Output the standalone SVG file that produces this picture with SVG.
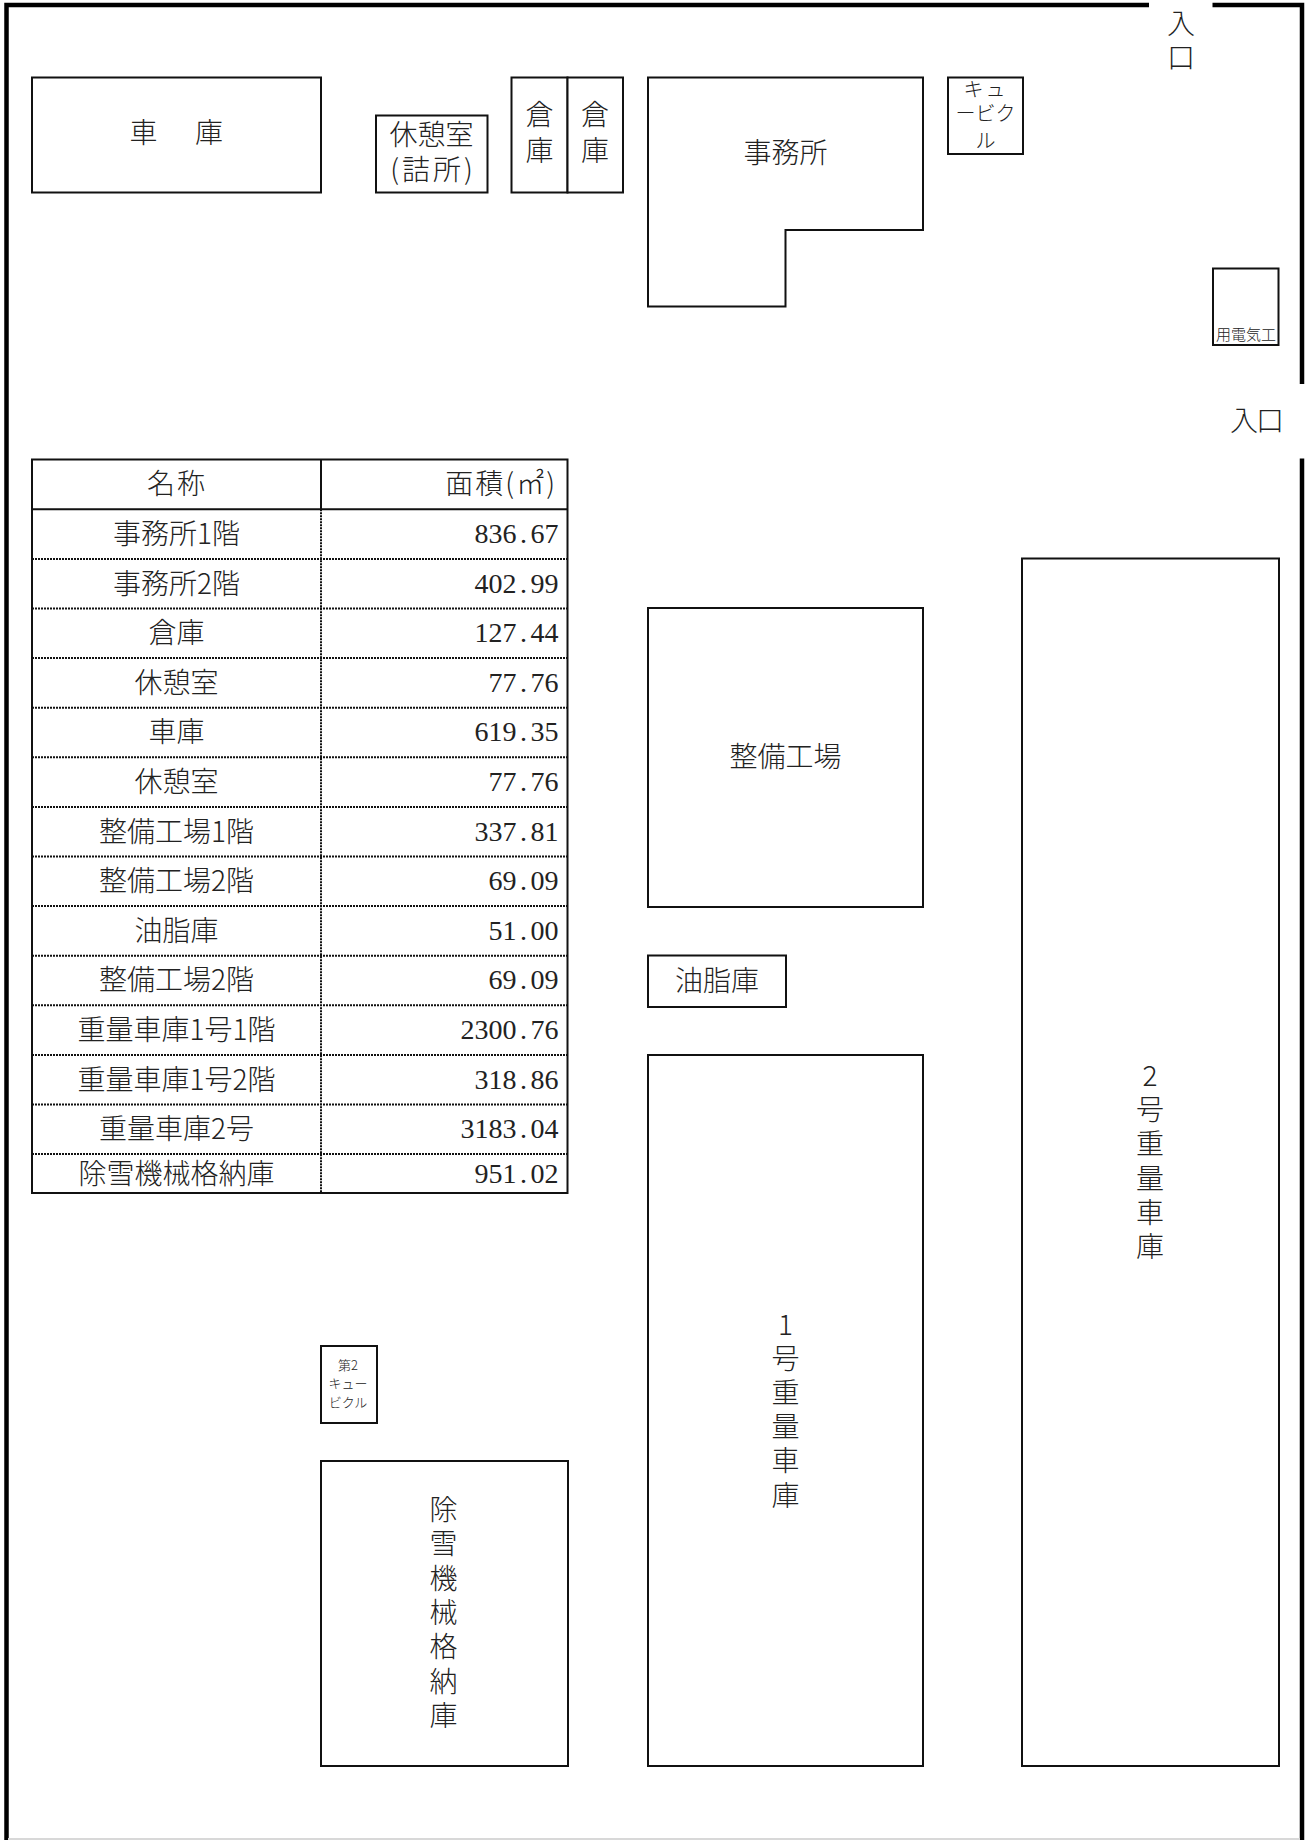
<svg xmlns="http://www.w3.org/2000/svg" width="1305" height="1840" viewBox="0 0 1305 1840">
<style>
text{font-family:"Noto Sans CJK JP","Liberation Serif",sans-serif;font-weight:300;fill:#222;font-size:28px;text-anchor:middle}
.num{font-family:"Liberation Serif","Noto Sans CJK JP",serif;font-weight:400;text-anchor:start}
.end{text-anchor:end}
.b{fill:#fff;stroke:#111;stroke-width:2}
.wall{fill:none;stroke:#000;stroke-width:4.5}
.solid{stroke:#111;stroke-width:2;fill:none}
.dot{stroke:#111;stroke-width:2;stroke-dasharray:2 1;fill:none}
</style>
<rect width="1305" height="1840" fill="#fff"/>
<g id="site-wall">
<path class="wall" d="M6.5 1840V5H1149M1212.5 5H1302V384M1302 458.5V1840"/>
<path d="M8 1839H1300" stroke="#d8d8d8" stroke-width="2" fill="none"/>
</g>
<g id="garage"><rect class="b" x="32" y="77.5" width="289" height="115"/><text x="143.5" y="143">車</text><text x="209" y="143">庫</text></g>
<g id="rest-room"><rect class="b" x="376" y="115.5" width="111.5" height="77"/><text x="431.5" y="145">休憩室</text><text x="433" y="180" letter-spacing="3">(詰所)</text></g>
<g id="storage-1"><rect class="b" x="511.5" y="77.5" width="56" height="115"/><text x="539.5" y="125">倉</text><text x="539.5" y="161">庫</text></g>
<g id="storage-2"><rect class="b" x="567.5" y="77.5" width="55.5" height="115"/><text x="595" y="125">倉</text><text x="595" y="161">庫</text></g>
<g id="office"><path class="b" d="M648 77.5H923V230H785.5V306.5H648Z"/><text x="785.5" y="163">事務所</text></g>
<g id="cubicle"><rect class="b" x="948" y="77.5" width="75" height="76.5"/><text x="985.5" y="97" letter-spacing="2" style="font-size:20px">キュ</text><text x="985.5" y="121" style="font-size:20px">ービク</text><text x="985.5" y="148" style="font-size:20px">ル</text></g>
<g id="electrical"><rect class="b" x="1213" y="268.5" width="65.5" height="76.5"/><text x="1246" y="339.5" style="font-size:15px">用電気工</text></g>
<g id="entrance-top"><text x="1181" y="34">入</text><text x="1181" y="68">口</text></g>
<g id="entrance-right"><text x="1244" y="431">入</text><text x="1270" y="431">口</text></g>
<g id="area-table">
<rect class="b" x="32" y="459.5" width="535.5" height="733.5"/>
<path class="solid" d="M32 509.3H567.5M321 459.5V509.3"/>
<path class="dot" d="M321 509.3V1193M32 558.9H567.5M32 608.5H567.5M32 658.1H567.5M32 707.7H567.5M32 757.3H567.5M32 806.9H567.5M32 856.5H567.5M32 906.1H567.5M32 955.7H567.5M32 1005.3H567.5M32 1054.9H567.5M32 1104.5H567.5M32 1154.1H567.5"/>
<text x="177" y="494" letter-spacing="2">名称</text><text class="end" x="557" y="494" letter-spacing="2">面積(㎡)</text>
<text x="176.5" y="544">事務所1階</text><text class="num" x="474.5 488.5 502.5 520 530.5 544.5" y="543">836.67</text>
<text x="176.5" y="593.6">事務所2階</text><text class="num" x="474.5 488.5 502.5 520 530.5 544.5" y="592.6">402.99</text>
<text x="176.5" y="643.2">倉庫</text><text class="num" x="474.5 488.5 502.5 520 530.5 544.5" y="642.2">127.44</text>
<text x="176.5" y="692.8">休憩室</text><text class="num" x="488.5 502.5 520 530.5 544.5" y="691.8">77.76</text>
<text x="176.5" y="742.4">車庫</text><text class="num" x="474.5 488.5 502.5 520 530.5 544.5" y="741.4">619.35</text>
<text x="176.5" y="792">休憩室</text><text class="num" x="488.5 502.5 520 530.5 544.5" y="791">77.76</text>
<text x="176.5" y="841.6">整備工場1階</text><text class="num" x="474.5 488.5 502.5 520 530.5 544.5" y="840.6">337.81</text>
<text x="176.5" y="891.2">整備工場2階</text><text class="num" x="488.5 502.5 520 530.5 544.5" y="890.2">69.09</text>
<text x="176.5" y="940.8">油脂庫</text><text class="num" x="488.5 502.5 520 530.5 544.5" y="939.8">51.00</text>
<text x="176.5" y="990.4">整備工場2階</text><text class="num" x="488.5 502.5 520 530.5 544.5" y="989.4">69.09</text>
<text x="176.5" y="1040">重量車庫1号1階</text><text class="num" x="460.5 474.5 488.5 502.5 520 530.5 544.5" y="1039">2300.76</text>
<text x="176.5" y="1089.6">重量車庫1号2階</text><text class="num" x="474.5 488.5 502.5 520 530.5 544.5" y="1088.6">318.86</text>
<text x="176.5" y="1139.2">重量車庫2号</text><text class="num" x="460.5 474.5 488.5 502.5 520 530.5 544.5" y="1138.2">3183.04</text>
<text x="176.5" y="1184">除雪機械格納庫</text><text class="num" x="474.5 488.5 502.5 520 530.5 544.5" y="1183">951.02</text>
</g>
<g id="workshop"><rect class="b" x="648" y="608" width="275" height="299"/><text x="785.5" y="767">整備工場</text></g>
<g id="oil-store"><rect class="b" x="648" y="955.5" width="138" height="51.5"/><text x="717" y="991">油脂庫</text></g>
<g id="cubicle-2"><rect class="b" x="321" y="1346" width="56" height="77"/><text x="348" y="1370" style="font-size:13px">第2</text><text x="348" y="1388" style="font-size:13px">キュー</text><text x="348" y="1407" style="font-size:13px">ビクル</text></g>
<g id="snow-machinery"><rect class="b" x="321" y="1461" width="247" height="305"/>
<text x="443.5" y="1520">除</text><text x="443.5" y="1554">雪</text><text x="443.5" y="1589">機</text><text x="443.5" y="1623">械</text><text x="443.5" y="1657">格</text><text x="443.5" y="1692">納</text><text x="443.5" y="1726">庫</text></g>
<g id="heavy-garage-1"><rect class="b" x="648" y="1055" width="275" height="711"/>
<text x="785.5" y="1335">1</text><text x="785.5" y="1369">号</text><text x="785.5" y="1403">重</text><text x="785.5" y="1437">量</text><text x="785.5" y="1471">車</text><text x="785.5" y="1506">庫</text></g>
<g id="heavy-garage-2"><rect class="b" x="1022" y="558.5" width="257" height="1207.5"/>
<text x="1150" y="1086">2</text><text x="1150" y="1120">号</text><text x="1150" y="1154">重</text><text x="1150" y="1189">量</text><text x="1150" y="1223">車</text><text x="1150" y="1257">庫</text></g>
</svg>
